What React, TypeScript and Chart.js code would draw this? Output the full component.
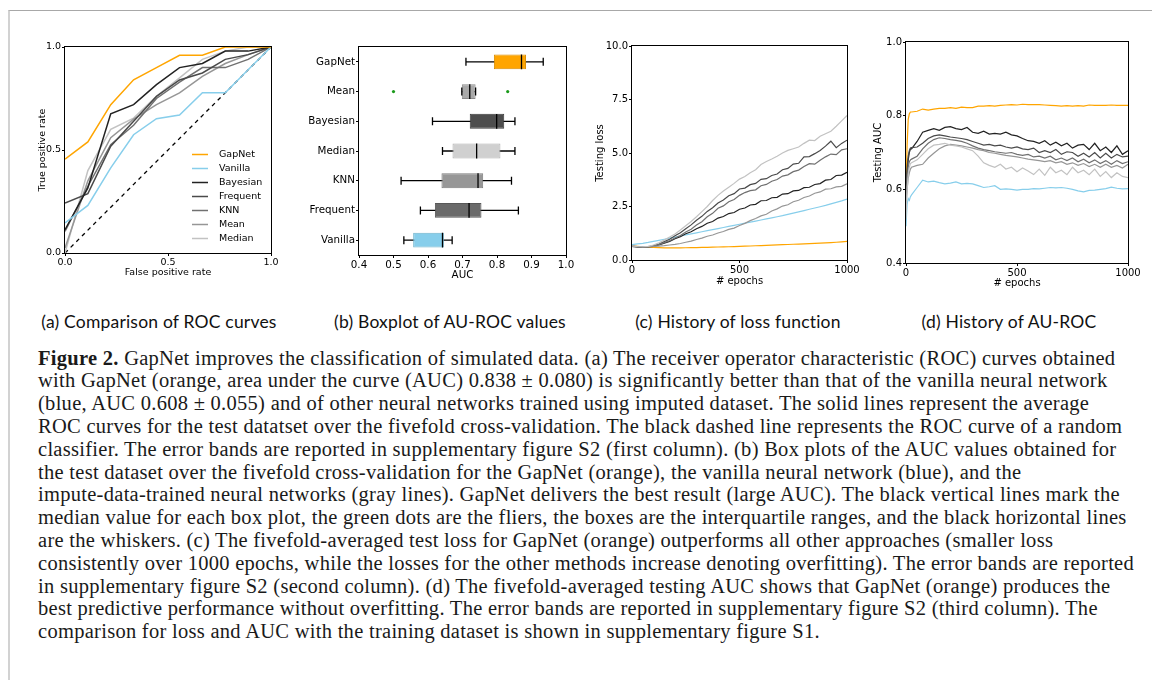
import React, { useEffect, useRef } from "react";
import { Chart, registerables } from "chart.js";
Chart.register(...registerables);

// ---------- (a) ROC curves ----------
const ROC_FPR = [0, 0.111, 0.222, 0.333, 0.444, 0.556, 0.667, 0.778, 0.889, 1.0];
const ROC_GAPNET = [0.456, 0.539, 0.72, 0.841, 0.9, 0.96, 0.96, 1.0, 1.0, 1.0];
const ROC_VANILLA = [0.146, 0.231, 0.413, 0.574, 0.652, 0.67, 0.778, 0.778, 0.89, 1.0];
const ROC_BAYESIAN = [0.113, 0.316, 0.676, 0.72, 0.817, 0.9, 0.92, 0.98, 0.98, 1.0];
const ROC_FREQUENT = [0.243, 0.288, 0.518, 0.64, 0.76, 0.84, 0.874, 0.94, 0.963, 1.0];
const ROC_KNN = [0.105, 0.324, 0.526, 0.62, 0.75, 0.83, 0.9, 0.9, 0.94, 1.0];
const ROC_MEAN = [0.024, 0.35, 0.56, 0.65, 0.72, 0.777, 0.857, 0.92, 0.963, 1.0];
const ROC_MEDIAN = [0.0, 0.4, 0.6, 0.655, 0.76, 0.85, 0.94, 0.98, 1.0, 1.0];
const ROC_RANDOM_X = [0, 1];
const ROC_RANDOM_Y = [0, 1];
const ROC_TICKS = [0, 0.5, 1.0];

// ---------- (b) Boxplot of AUC ----------
const BOX_CATEGORIES = ["GapNet", "Mean", "Bayesian", "Median", "KNN", "Frequent", "Vanilla"];
const BOX_WHISKER_LOW = [0.71, 0.698, 0.613, 0.642, 0.522, 0.578, 0.53];
const BOX_Q1 = [0.791, 0.698, 0.721, 0.671, 0.639, 0.62, 0.557];
const BOX_MEDIAN = [0.871, 0.721, 0.799, 0.741, 0.745, 0.719, 0.642];
const BOX_Q3 = [0.884, 0.738, 0.821, 0.81, 0.76, 0.755, 0.646];
const BOX_WHISKER_HIGH = [0.934, 0.738, 0.852, 0.852, 0.842, 0.862, 0.67];
const FLIER_CATEGORY = ["Mean", "Mean"];
const FLIER_VALUE = [0.5, 0.831];

// ---------- (c) Testing loss ----------
const LOSS_EPOCHS = [0, 25, 50, 75, 100, 125, 150, 175, 200, 225, 250, 275, 300, 325, 350, 375, 400, 425, 450, 475, 500, 525, 550, 575, 600, 625, 650, 675, 700, 725, 750, 775, 800, 825, 850, 875, 900, 925, 950, 975, 1000];
const LOSS_GAPNET = [0.66, 0.64, 0.62, 0.6, 0.585, 0.575, 0.57, 0.567, 0.567, 0.57, 0.573, 0.577, 0.582, 0.588, 0.594, 0.6, 0.607, 0.614, 0.62, 0.628, 0.636, 0.645, 0.655, 0.665, 0.675, 0.685, 0.695, 0.705, 0.715, 0.725, 0.735, 0.745, 0.755, 0.766, 0.778, 0.79, 0.802, 0.815, 0.83, 0.848, 0.87];
const LOSS_VANILLA = [0.72, 0.75, 0.78, 0.82, 0.87, 0.92, 0.97, 1.02, 1.07, 1.12, 1.17, 1.22, 1.27, 1.32, 1.37, 1.42, 1.47, 1.52, 1.57, 1.62, 1.67, 1.72, 1.77, 1.82, 1.87, 1.92, 1.97, 2.02, 2.07, 2.13, 2.19, 2.25, 2.31, 2.37, 2.43, 2.49, 2.55, 2.62, 2.69, 2.76, 2.85];
const LOSS_BAYESIAN = [0.64, 0.61, 0.6, 0.61, 0.64, 0.7, 0.79, 0.87, 0.99, 1.09, 1.23, 1.32, 1.46, 1.57, 1.72, 1.8, 1.96, 2.03, 2.17, 2.22, 2.37, 2.43, 2.57, 2.6, 2.77, 2.78, 2.91, 2.93, 3.08, 3.1, 3.23, 3.25, 3.38, 3.4, 3.53, 3.57, 3.73, 3.76, 3.95, 3.97, 4.1];
const LOSS_FREQUENT = [0.65, 0.62, 0.61, 0.62, 0.67, 0.75, 0.86, 0.97, 1.13, 1.27, 1.46, 1.64, 1.86, 2.04, 2.27, 2.44, 2.66, 2.8, 3.0, 3.1, 3.32, 3.36, 3.52, 3.58, 3.77, 3.8, 3.95, 4.02, 4.22, 4.28, 4.48, 4.52, 4.82, 4.83, 4.97, 5.12, 5.32, 5.55, 5.25, 5.45, 5.6];
const LOSS_KNN = [0.64, 0.61, 0.6, 0.61, 0.65, 0.72, 0.81, 0.9, 1.03, 1.14, 1.31, 1.44, 1.63, 1.79, 2.02, 2.18, 2.42, 2.53, 2.72, 2.83, 3.02, 3.15, 3.24, 3.28, 3.47, 3.53, 3.68, 3.76, 3.92, 3.98, 4.13, 4.2, 4.37, 4.5, 4.48, 4.66, 4.82, 4.95, 4.92, 5.15, 5.2];
const LOSS_MEAN = [0.66, 0.63, 0.62, 0.62, 0.63, 0.65, 0.67, 0.7, 0.73, 0.77, 0.83, 0.88, 0.96, 1.02, 1.11, 1.17, 1.26, 1.33, 1.43, 1.49, 1.61, 1.71, 1.84, 1.94, 2.06, 2.14, 2.29, 2.39, 2.52, 2.58, 2.72, 2.79, 2.92, 2.99, 3.12, 3.18, 3.31, 3.33, 3.42, 3.44, 3.56];
const LOSS_MEDIAN = [0.66, 0.63, 0.62, 0.64, 0.7, 0.8, 0.93, 1.07, 1.22, 1.4, 1.6, 1.8, 2.02, 2.26, 2.5, 2.78, 3.02, 3.22, 3.4, 3.58, 3.78, 3.9, 4.08, 4.22, 4.46, 4.6, 4.72, 4.85, 5.0, 5.12, 5.2, 5.28, 5.45, 5.6, 5.58, 5.78, 5.9, 6.02, 6.25, 6.5, 6.75];

// ---------- (d) Testing AUC ----------
const AUC_EPOCHS = [0, 5, 10, 15, 20, 25, 50, 75, 100, 125, 150, 175, 200, 225, 250, 275, 300, 325, 350, 375, 400, 425, 450, 475, 500, 525, 550, 575, 600, 625, 650, 675, 700, 725, 750, 775, 800, 825, 850, 875, 900, 925, 950, 975, 1000];
const AUC_GAPNET = [0.6, 0.72, 0.79, 0.805, 0.81, 0.81, 0.812, 0.818, 0.815, 0.818, 0.82, 0.82, 0.822, 0.82, 0.823, 0.822, 0.822, 0.826, 0.826, 0.827, 0.826, 0.828, 0.829, 0.83, 0.829, 0.831, 0.83, 0.83, 0.83, 0.829, 0.828, 0.827, 0.826, 0.827, 0.826, 0.827, 0.826, 0.829, 0.828, 0.828, 0.828, 0.829, 0.828, 0.828, 0.828];
const AUC_VANILLA = [0.5, 0.56, 0.575, 0.57, 0.58, 0.585, 0.605, 0.625, 0.62, 0.622, 0.618, 0.615, 0.617, 0.62, 0.615, 0.616, 0.615, 0.61, 0.605, 0.607, 0.61, 0.6, 0.601, 0.6, 0.598, 0.6, 0.6, 0.602, 0.601, 0.603, 0.605, 0.604, 0.605, 0.603, 0.6, 0.596, 0.593, 0.597, 0.598, 0.6, 0.602, 0.606, 0.603, 0.601, 0.602];
const AUC_BAYESIAN = [0.55, 0.64, 0.68, 0.7, 0.71, 0.71, 0.73, 0.755, 0.76, 0.765, 0.76, 0.768, 0.77, 0.765, 0.762, 0.768, 0.755, 0.752, 0.758, 0.75, 0.752, 0.75, 0.755, 0.748, 0.745, 0.738, 0.732, 0.73, 0.725, 0.732, 0.72, 0.728, 0.718, 0.725, 0.712, 0.72, 0.722, 0.708, 0.725, 0.705, 0.715, 0.7, 0.718, 0.695, 0.705];
const AUC_FREQUENT = [0.6, 0.66, 0.69, 0.705, 0.712, 0.713, 0.715, 0.725, 0.738, 0.745, 0.748, 0.745, 0.742, 0.74, 0.738, 0.735, 0.73, 0.725, 0.72, 0.722, 0.718, 0.72, 0.715, 0.712, 0.715, 0.71, 0.708, 0.712, 0.7, 0.705, 0.7, 0.708, 0.695, 0.702, 0.7, 0.69, 0.698, 0.688, 0.7, 0.685, 0.698, 0.685, 0.695, 0.688, 0.69];
const AUC_KNN = [0.58, 0.63, 0.66, 0.675, 0.68, 0.682, 0.69, 0.71, 0.725, 0.735, 0.74, 0.738, 0.735, 0.733, 0.73, 0.725, 0.718, 0.712, 0.708, 0.705, 0.702, 0.7, 0.698, 0.7, 0.695, 0.692, 0.695, 0.688, 0.69, 0.685, 0.69, 0.68, 0.685, 0.678, 0.685, 0.675, 0.682, 0.672, 0.68, 0.67, 0.678, 0.668, 0.678, 0.67, 0.675];
const AUC_MEAN = [0.56, 0.6, 0.63, 0.645, 0.655, 0.66, 0.665, 0.668, 0.685, 0.698, 0.71, 0.718, 0.722, 0.72, 0.718, 0.715, 0.712, 0.708, 0.705, 0.7, 0.698, 0.695, 0.692, 0.69, 0.688, 0.685, 0.682, 0.68, 0.678, 0.675, 0.678, 0.672, 0.675, 0.668, 0.672, 0.665, 0.67, 0.662, 0.668, 0.66, 0.668, 0.66, 0.665, 0.658, 0.668];
const AUC_MEDIAN = [0.52, 0.6, 0.64, 0.66, 0.67, 0.672, 0.68, 0.695, 0.71, 0.72, 0.722, 0.725, 0.72, 0.718, 0.715, 0.71, 0.705, 0.69, 0.672, 0.665, 0.66, 0.668, 0.655, 0.66, 0.648, 0.658, 0.65, 0.64, 0.655, 0.638, 0.66, 0.645, 0.652, 0.64, 0.66, 0.645, 0.652, 0.64, 0.655, 0.635, 0.648, 0.632, 0.645, 0.635, 0.632];

// ---------- texts ----------
const SUB_CAPTIONS = ["(a) Comparison of ROC curves", "(b) Boxplot of AU-ROC values", "(c) History of loss function", "(d) History of AU-ROC"];
const CAPTION_LINES = [
  "GapNet improves the classification of simulated data. (a) The receiver operator characteristic (ROC) curves obtained",
  "with GapNet (orange, area under the curve (AUC) 0.838 \u00b1 0.080) is significantly better than that of the vanilla neural network",
  "(blue, AUC 0.608 \u00b1 0.055) and of other neural networks trained using imputed dataset. The solid lines represent the average",
  "ROC curves for the test datatset over the fivefold cross-validation. The black dashed line represents the ROC curve of a random",
  "classifier. The error bands are reported in supplementary figure S2 (first column). (b) Box plots of the AUC values obtained for",
  "the test dataset over the fivefold cross-validation for the GapNet (orange), the vanilla neural network (blue), and the",
  "impute-data-trained neural networks (gray lines). GapNet delivers the best result (large AUC). The black vertical lines mark the",
  "median value for each box plot, the green dots are the fliers, the boxes are the interquartile ranges, and the black horizontal lines",
  "are the whiskers. (c) The fivefold-averaged test loss for GapNet (orange) outperforms all other approaches (smaller loss",
  "consistently over 1000 epochs, while the losses for the other methods increase denoting overfitting). The error bands are reported",
  "in supplementary figure S2 (second column). (d) The fivefold-averaged testing AUC shows that GapNet (orange) produces the",
  "best predictive performance without overfitting. The error bands are reported in supplementary figure S2 (third column). The",
  "comparison for loss and AUC with the training dataset is shown in supplementary figure S1.",
];

// ---------- styles ----------
const LINE_COLOR: Record<string, string> = {
  GapNet: "#FFA500",
  Vanilla: "#87CEEB",
  Bayesian: "#222222",
  Frequent: "#4a4a4a",
  KNN: "#707070",
  Mean: "#969696",
  Median: "#c2c2c2",
};
const BOX_FILL: Record<string, string> = {
  GapNet: "#FFA500",
  Mean: "#A9A9A9",
  Bayesian: "#4D4D4D",
  Median: "#D0D0D0",
  KNN: "#979797",
  Frequent: "#6A6A6A",
  Vanilla: "#87CEEB",
};
const BOX_EDGE: Record<string, string> = {
  GapNet: "#D98C00",
  Mean: "#8a8a8a",
  Bayesian: "#3a3a3a",
  Median: "#b0b0b0",
  KNN: "#7c7c7c",
  Frequent: "#585858",
  Vanilla: "#6fb3cc",
};

const FONT = "DejaVu Sans";

const framePlugin = {
  id: "frame",
  afterDraw(chart: any) {
    const { ctx, chartArea: a } = chart;
    ctx.save();
    ctx.strokeStyle = "#000";
    ctx.lineWidth = 1;
    const l = Math.round(a.left) - 0.5;
    const t = Math.round(a.top) - 0.5;
    ctx.strokeRect(l, t, Math.round(a.right) - Math.round(a.left) + 1, Math.round(a.bottom) - Math.round(a.top) + 1);
    ctx.restore();
  },
};

const rocLegendPlugin = {
  id: "rocLegend",
  afterDatasetsDraw(chart: any) {
    const { ctx, chartArea: a } = chart;
    const items = chart.data.datasets.filter((d: any) => d.label && d.label !== "Random");
    ctx.save();
    ctx.font = `9.5px '${FONT}'`;
    ctx.textBaseline = "middle";
    ctx.textAlign = "left";
    items.forEach((d: any, i: number) => {
      const y = Math.round(a.bottom - 15 - (items.length - 1 - i) * 14) + 0.5;
      ctx.strokeStyle = d.borderColor;
      ctx.lineWidth = 1.5;
      ctx.beginPath();
      ctx.moveTo(a.right - 79, y);
      ctx.lineTo(a.right - 63, y);
      ctx.stroke();
      ctx.fillStyle = "#000";
      ctx.fillText(d.label, a.right - 52, y + 0.5);
    });
    ctx.restore();
  },
};

function tickGrid() {
  return { display: true, drawOnChartArea: false, drawTicks: true, tickLength: 3, color: "#000", lineWidth: 1 };
}

function linearAxis(o: {
  min: number; max: number; step: number; decimals: number; size: number; title?: string;
  fixed: number; horizontal: boolean;
}) {
  return {
    type: "linear",
    min: o.min,
    max: o.max,
    border: { display: false },
    grid: tickGrid(),
    ticks: {
      stepSize: o.step,
      autoSkip: false,
      maxRotation: 0,
      padding: 1,
      color: "#000",
      font: { family: FONT, size: o.size },
      callback: (v: number) => Number(v).toFixed(o.decimals),
    },
    title: o.title
      ? { display: true, text: o.title, color: "#000", padding: 0, font: { family: FONT, size: o.size } }
      : { display: false },
    afterFit: (s: any) => {
      if (o.horizontal) {
        s.height = o.fixed;
        s.paddingLeft = 0;
        s.paddingRight = 0;
      } else {
        s.width = o.fixed;
        s.paddingTop = 0;
        s.paddingBottom = 0;
      }
    },
  };
}

function lineDataset(label: string, xs: number[], ys: number[], width: number) {
  return {
    type: "line",
    label,
    data: xs.map((x, i) => ({ x, y: ys[i] })),
    borderColor: LINE_COLOR[label],
    backgroundColor: LINE_COLOR[label],
    borderWidth: width,
    pointRadius: 0,
    fill: false,
    tension: 0,
  };
}

function rocConfig(): any {
  const series: [string, number[]][] = [
    ["GapNet", ROC_GAPNET],
    ["Vanilla", ROC_VANILLA],
    ["Bayesian", ROC_BAYESIAN],
    ["Frequent", ROC_FREQUENT],
    ["KNN", ROC_KNN],
    ["Mean", ROC_MEAN],
    ["Median", ROC_MEDIAN],
  ];
  const datasets: any[] = series.map(([name, ys]) => lineDataset(name, ROC_FPR, ys, 1.5));
  datasets.push({
    type: "line",
    label: "Random",
    data: ROC_RANDOM_X.map((x, i) => ({ x, y: ROC_RANDOM_Y[i] })),
    borderColor: "#000",
    borderWidth: 1.3,
    borderDash: [4, 4],
    pointRadius: 0,
    fill: false,
  });
  return {
    type: "line",
    data: { datasets },
    options: {
      animation: false,
      responsive: false,
      devicePixelRatio: 1,
      layout: { padding: { left: 37, top: 27, right: 19, bottom: 32 } },
      plugins: { legend: { display: false }, tooltip: { enabled: false } },
      scales: {
        x: linearAxis({ min: ROC_TICKS[0], max: ROC_TICKS[2], step: ROC_TICKS[1] - ROC_TICKS[0], decimals: 1, size: 9.5, title: "False positive rate", fixed: 25, horizontal: true }),
        y: linearAxis({ min: ROC_TICKS[0], max: ROC_TICKS[2], step: ROC_TICKS[1] - ROC_TICKS[0], decimals: 1, size: 9.5, title: "True positive rate", fixed: 28, horizontal: false }),
      },
    },
    plugins: [framePlugin, rocLegendPlugin],
  };
}

function boxConfig(): any {
  const datasets: any[] = [];
  BOX_CATEGORIES.forEach((c, i) => {
    datasets.push({
      type: "line",
      label: "whisker-" + c,
      data: [{ x: BOX_WHISKER_LOW[i], y: c }, { x: BOX_WHISKER_HIGH[i], y: c }],
      borderColor: "#000",
      borderWidth: 1.3,
      pointRadius: 0,
      fill: false,
      order: 4,
    });
  });
  datasets.push({
    type: "bar",
    label: "IQR",
    data: BOX_CATEGORIES.map((c, i) => [BOX_Q1[i], BOX_Q3[i]]),
    backgroundColor: BOX_CATEGORIES.map((c) => BOX_FILL[c]),
    borderColor: BOX_CATEGORIES.map((c) => BOX_EDGE[c]),
    borderWidth: 1,
    borderSkipped: false,
    barPercentage: 0.5,
    categoryPercentage: 1,
    order: 3,
  });
  const caps: any[] = [];
  BOX_CATEGORIES.forEach((c, i) => {
    caps.push({ x: BOX_WHISKER_LOW[i], y: c });
    caps.push({ x: BOX_WHISKER_HIGH[i], y: c });
  });
  datasets.push({
    type: "line",
    label: "caps",
    data: caps,
    showLine: false,
    pointStyle: "line",
    pointRotation: 90,
    pointRadius: 4,
    pointBorderColor: "#000",
    pointBorderWidth: 1.3,
    order: 2,
  });
  datasets.push({
    type: "line",
    label: "medians",
    data: BOX_CATEGORIES.map((c, i) => ({ x: BOX_MEDIAN[i], y: c })),
    showLine: false,
    pointStyle: "line",
    pointRotation: 90,
    pointRadius: 7.4,
    pointBorderColor: "#000",
    pointBorderWidth: 1.3,
    order: 1,
  });
  datasets.push({
    type: "line",
    label: "fliers",
    data: FLIER_VALUE.map((v, i) => ({ x: v, y: FLIER_CATEGORY[i] })),
    showLine: false,
    pointStyle: "circle",
    pointRadius: 1.6,
    pointBackgroundColor: "#1a9a1a",
    pointBorderWidth: 0,
    order: 0,
  });
  return {
    type: "bar",
    data: { labels: BOX_CATEGORIES, datasets },
    options: {
      indexAxis: "y",
      animation: false,
      responsive: false,
      devicePixelRatio: 1,
      layout: { padding: { left: 15, top: 27, right: 14, bottom: 28 } },
      plugins: { legend: { display: false }, tooltip: { enabled: false } },
      scales: {
        x: linearAxis({ min: 0.4, max: 1.0, step: 0.1, decimals: 1, size: 10.3, title: "AUC", fixed: 27, horizontal: true }),
        y: {
          type: "category",
          labels: BOX_CATEGORIES,
          offset: true,
          border: { display: false },
          grid: { ...tickGrid(), offset: false },
          ticks: { padding: 1, color: "#000", autoSkip: false, font: { family: FONT, size: 10.3 } },
          afterFit: (s: any) => {
            s.width = 54;
            s.paddingTop = 0;
            s.paddingBottom = 0;
          },
        },
      },
    },
    plugins: [framePlugin],
  };
}

function historyConfig(
  xs: number[],
  series: [string, number[]][],
  y: { min: number; max: number; step: number; title: string; width: number },
  pad: any,
  xHeight: number
): any {
  return {
    type: "line",
    data: { datasets: series.map(([name, ys]) => lineDataset(name, xs, ys, 1.2)) },
    options: {
      animation: false,
      responsive: false,
      devicePixelRatio: 1,
      layout: { padding: pad },
      plugins: { legend: { display: false }, tooltip: { enabled: false } },
      scales: {
        x: linearAxis({ min: 0, max: 1000, step: 500, decimals: 0, size: 10, title: "# epochs", fixed: xHeight, horizontal: true }),
        y: linearAxis({ min: y.min, max: y.max, step: y.step, decimals: 1, size: 10, title: y.title, fixed: y.width, horizontal: false }),
      },
    },
    plugins: [framePlugin],
  };
}

export default function App() {
  const refA = useRef<HTMLCanvasElement>(null);
  const refB = useRef<HTMLCanvasElement>(null);
  const refC = useRef<HTMLCanvasElement>(null);
  const refD = useRef<HTMLCanvasElement>(null);

  useEffect(() => {
    const charts: Chart[] = [];
    charts.push(new Chart(refA.current as HTMLCanvasElement, rocConfig()));
    charts.push(new Chart(refB.current as HTMLCanvasElement, boxConfig()));
    charts.push(
      new Chart(
        refC.current as HTMLCanvasElement,
        historyConfig(
          LOSS_EPOCHS,
          [
            ["Median", LOSS_MEDIAN],
            ["Mean", LOSS_MEAN],
            ["KNN", LOSS_KNN],
            ["Frequent", LOSS_FREQUENT],
            ["Bayesian", LOSS_BAYESIAN],
            ["Vanilla", LOSS_VANILLA],
            ["GapNet", LOSS_GAPNET],
          ],
          { min: 0, max: 10, step: 2.5, title: "Testing loss", width: 38 },
          { left: 14, top: 26, right: 13, bottom: 23 },
          27
        )
      )
    );
    charts.push(
      new Chart(
        refD.current as HTMLCanvasElement,
        historyConfig(
          AUC_EPOCHS,
          [
            ["Median", AUC_MEDIAN],
            ["Mean", AUC_MEAN],
            ["KNN", AUC_KNN],
            ["Frequent", AUC_FREQUENT],
            ["Bayesian", AUC_BAYESIAN],
            ["Vanilla", AUC_VANILLA],
            ["GapNet", AUC_GAPNET],
          ],
          { min: 0.4, max: 1.0, step: 0.2, title: "Testing AUC", width: 34 },
          { left: 12, top: 22, right: 24, bottom: 21 },
          26
        )
      )
    );
    return () => charts.forEach((c) => c.destroy());
  }, []);

  const canvasStyle = (left: number, top: number, w: number, h: number): React.CSSProperties => ({
    position: "absolute",
    left,
    top,
    width: w,
    height: h,
  });

  const subCenters = [159, 450, 738, 1009];

  return (
    <div style={{ position: "absolute", left: 0, top: 0, width: 1152, height: 680, background: "#fff", overflow: "hidden" }}>
      <div
        style={{
          position: "absolute",
          left: 8,
          top: 10,
          right: 0,
          bottom: 0,
          borderTop: "1px solid #a8a8a8",
          borderLeft: "2px solid #d2d2d2",
        }}
      />
      <canvas ref={refA} width={290} height={290} style={canvasStyle(0, 20, 290, 290)} />
      <canvas ref={refB} width={290} height={290} style={canvasStyle(290, 20, 290, 290)} />
      <canvas ref={refC} width={280} height={290} style={canvasStyle(580, 20, 280, 290)} />
      <canvas ref={refD} width={292} height={290} style={canvasStyle(860, 20, 292, 290)} />
      {SUB_CAPTIONS.map((t, i) => (
        <div
          key={t}
          style={{
            position: "absolute",
            left: subCenters[i] - 150,
            width: 300,
            top: 311,
            lineHeight: "22px",
            textAlign: "center",
            fontFamily: "Lato, sans-serif",
            fontSize: 17.5,
            letterSpacing: "0.2px",
            color: "#111",
            whiteSpace: "nowrap",
          }}
        >
          {t}
        </div>
      ))}
      <div
        style={{
          position: "absolute",
          left: 38,
          top: 346.6,
          fontFamily: "'Liberation Serif', serif",
          fontSize: 20.5,
          letterSpacing: "0.28px",
          lineHeight: "22.8px",
          color: "#1a1a1a",
          whiteSpace: "nowrap",
        }}
      >
        {CAPTION_LINES.map((line, i) => (
          <div key={i}>
            {i === 0 ? <b>Figure 2. </b> : null}
            {line}
          </div>
        ))}
      </div>
    </div>
  );
}
